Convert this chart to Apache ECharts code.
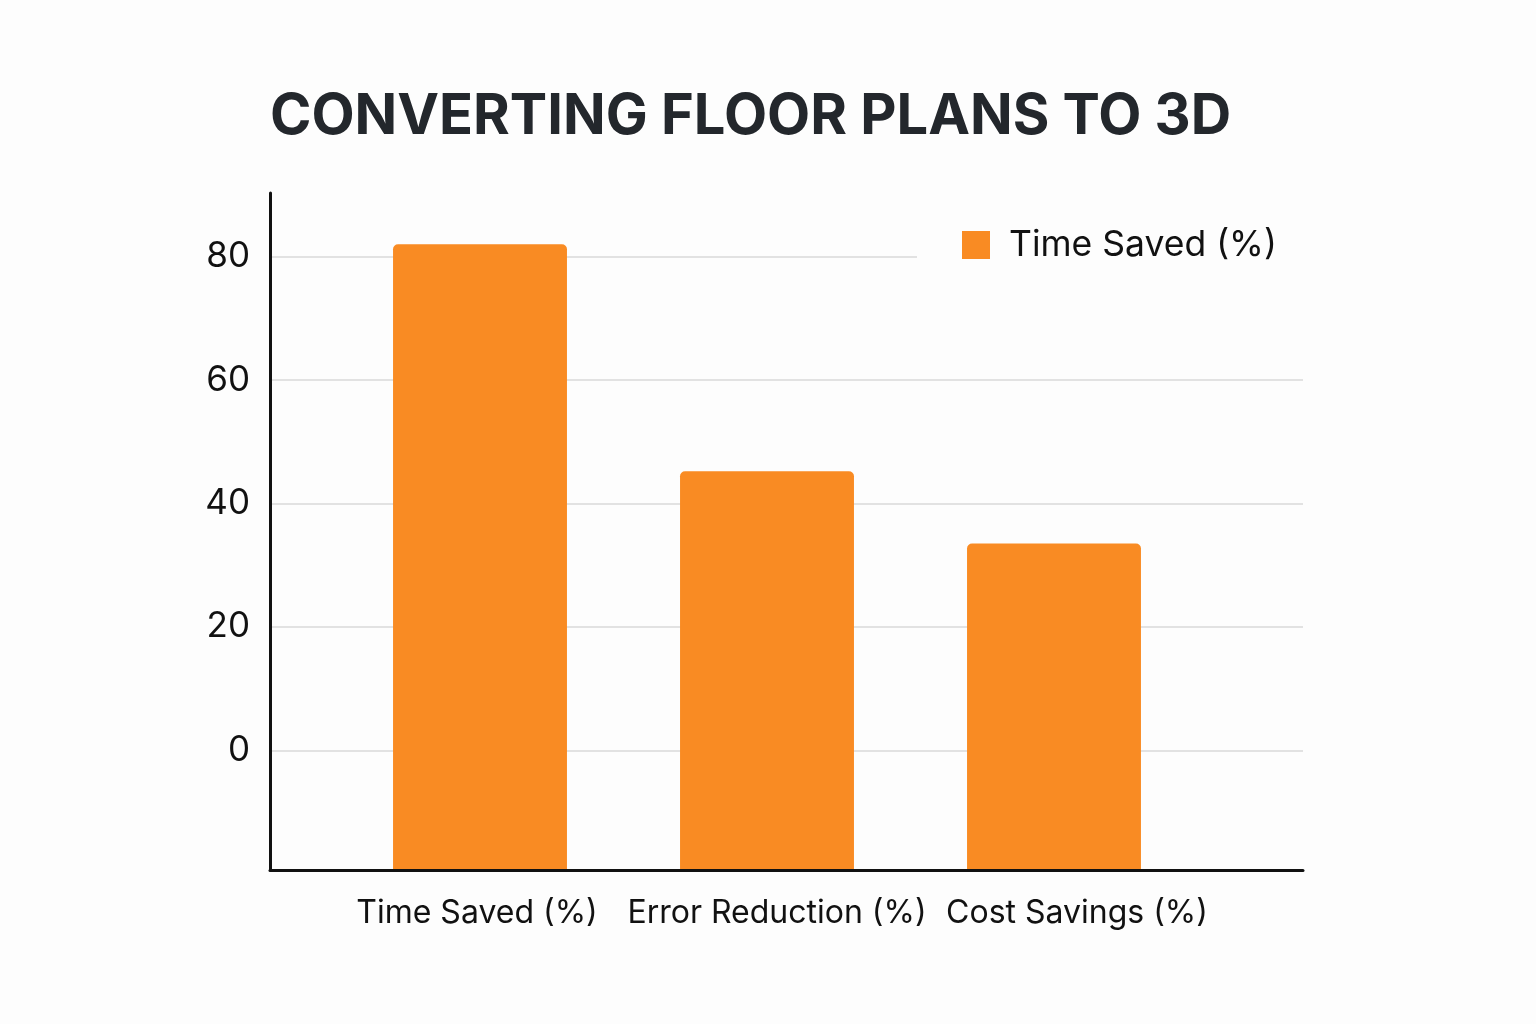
<!DOCTYPE html>
<html>
<head>
<meta charset="utf-8">
<title>Converting Floor Plans to 3D</title>
<script src="https://cdn.jsdelivr.net/npm/echarts@6/dist/echarts.min.js"></script>
<style>
  html, body { margin: 0; padding: 0; background: #fdfdfd; }
  #chart { width: 1536px; height: 1024px; }
</style>
</head>
<body>
<div id="chart"></div>
<script>
const categories = ["Time Saved (%)", "Error Reduction (%)", "Cost Savings (%)"];
const seriesName = "Time Saved (%)";
const values = [82, 45.2, 33.5];
const yTickValues = [0, 20, 40, 60, 80];
// the axis runs a little below zero and above 80 in the original
const yMin = -19.4;
const yMax = 90.3;

const FONT = "Inter";
const BAR_COLOR = "#f98b23";

const chart = echarts.init(document.getElementById("chart"));

function renderBar(params, api) {
  const top = api.coord([api.value(0), api.value(1)]);
  const base = api.coord([api.value(0), yMin]);
  const w = api.size([1, 0])[0] * 0.606;
  return {
    type: "rect",
    shape: { x: top[0] - w / 2, y: top[1], width: w, height: base[1] - top[1], r: [5, 5, 0, 0] },
    style: api.style({ fill: BAR_COLOR }),
  };
}

const hiddenValueAxis = (gridIndex) => ({
  type: "value",
  gridIndex,
  min: yMin,
  max: yMax,
  show: false,
});

const options = {
  backgroundColor: "#fdfdfd",
  animation: false,
  title: {
    text: "CONVERTING FLOOR PLANS TO 3D",
    left: 265,
    top: 84,
    textStyle: {
      fontFamily: FONT,
      fontWeight: "bold",
      fontSize: 56,
      lineHeight: 56,
      color: "#23272c",
    },
  },
  legend: {
    data: [seriesName],
    left: 917,
    top: 217,
    padding: [10, 32, 10, 45],
    backgroundColor: "#fdfdfd",
    itemWidth: 28,
    itemHeight: 28,
    icon: "rect",
    textStyle: {
      fontFamily: FONT,
      fontSize: 35.5,
      color: "#111",
      padding: [0, 0, 0, 14],
    },
  },
  grid: [
    // frame: axis lines and grid lines
    { left: 270, width: 1033, top: 193, height: 677 },
    // bars
    { left: 336.5, width: 861, top: 193, height: 677 },
    // category labels
    { left: 327, width: 900, top: 193, height: 677 },
  ],
  xAxis: [
    {
      type: "value",
      gridIndex: 0,
      min: 0,
      max: 1,
      z: 5,
      axisLine: { show: true, onZero: false, lineStyle: { color: "#111", width: 3 } },
      axisTick: { show: false },
      axisLabel: { show: false },
      splitLine: { show: false },
    },
    {
      type: "category",
      gridIndex: 1,
      data: categories,
      show: false,
    },
    {
      type: "category",
      gridIndex: 2,
      data: categories,
      axisLine: { show: false, onZero: false },
      axisTick: { show: false },
      axisLabel: {
        interval: 0,
        fontFamily: FONT,
        fontSize: 32,
        lineHeight: 32,
        color: "#111",
        margin: 27,
      },
    },
  ],
  yAxis: [
    {
      type: "value",
      gridIndex: 0,
      min: yMin,
      max: yMax,
      splitNumber: 5,
      axisLine: { show: true, lineStyle: { color: "#111", width: 3 } },
      axisTick: { show: false },
      axisLabel: {
        showMinLabel: false,
        showMaxLabel: false,
        fontFamily: FONT,
        fontSize: 35,
        color: "#111",
        margin: 20,
        padding: [6, 0, 0, 0],
        formatter: (v) => (yTickValues.includes(Math.round(v * 10) / 10) ? String(v) : ""),
      },
      splitLine: {
        show: true,
        showMinLine: false,
        showMaxLine: false,
        lineStyle: { color: "#d8d8d8", width: 1.5 },
      },
    },
    hiddenValueAxis(1),
    hiddenValueAxis(2),
  ],
  series: [
    {
      name: seriesName,
      type: "custom",
      xAxisIndex: 1,
      yAxisIndex: 1,
      renderItem: renderBar,
      itemStyle: { color: BAR_COLOR },
      encode: { x: 0, y: 1 },
      data: values.map((v, i) => [i, v]),
    },
  ],
};

chart.setOption(options);
</script>
</body>
</html>
